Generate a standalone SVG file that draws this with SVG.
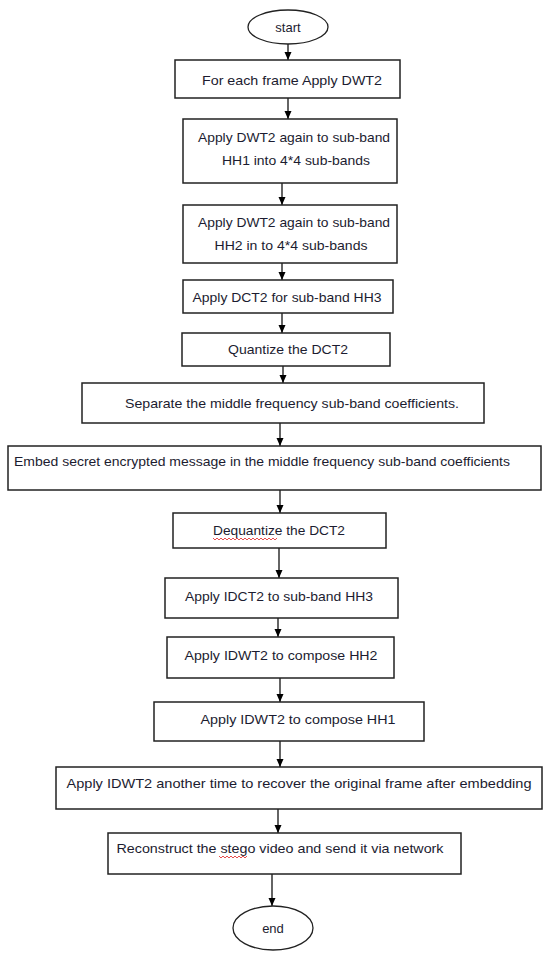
<svg xmlns="http://www.w3.org/2000/svg" width="550" height="955" viewBox="0 0 550 955">
<defs>
<marker id="ah" markerWidth="10" markerHeight="10" refX="9" refY="5" orient="auto" markerUnits="userSpaceOnUse">
<path d="M1,1.5 L9,5 L1,8.5 Z" fill="#000"/>
</marker>
<style>
.box{fill:#fff;stroke:#222;stroke-width:1.5}
.term{fill:#fff;stroke:#222;stroke-width:1.3}
.t{font-family:"Liberation Sans",Arial,sans-serif;font-size:13px;fill:#1c1c30;text-anchor:middle;dominant-baseline:central}
.c{stroke:#111;stroke-width:1.3;fill:none;marker-end:url(#ah)}
.sq{stroke:#e02020;stroke-width:0.8;fill:none}
</style>
</defs>
<rect width="550" height="955" fill="#fff"/>
<g id="connectors">
<line class="c" x1="288" y1="44" x2="288" y2="60"/>
<line class="c" x1="288" y1="98" x2="288" y2="119"/>
<line class="c" x1="282" y1="183" x2="282" y2="205"/>
<line class="c" x1="282" y1="263" x2="282" y2="280"/>
<line class="c" x1="282" y1="313" x2="282" y2="333"/>
<line class="c" x1="283" y1="366" x2="283" y2="383"/>
<line class="c" x1="280" y1="423" x2="280" y2="446"/>
<line class="c" x1="280" y1="490" x2="280" y2="513"/>
<line class="c" x1="279" y1="548" x2="279" y2="578"/>
<line class="c" x1="278" y1="618" x2="278" y2="637"/>
<line class="c" x1="280" y1="678" x2="280" y2="702"/>
<line class="c" x1="280" y1="741" x2="280" y2="767"/>
<line class="c" x1="278" y1="809" x2="278" y2="833"/>
<line class="c" x1="272" y1="874" x2="272" y2="906"/>
</g>
<g id="start"><ellipse class="term" cx="288" cy="27" rx="40" ry="17"/><text class="t" x="288" y="27">start</text></g>
<g id="n1"><rect class="box" x="175" y="60" width="225" height="38"/><text class="t" x="292" y="80" textLength="180" lengthAdjust="spacingAndGlyphs">For each frame Apply DWT2</text></g>
<g id="n2"><rect class="box" x="183" y="119" width="214" height="64"/><text class="t" x="294" y="137" textLength="192" lengthAdjust="spacingAndGlyphs">Apply DWT2 again to sub-band</text><text class="t" x="296" y="160" textLength="148" lengthAdjust="spacingAndGlyphs">HH1 into 4*4 sub-bands</text></g>
<g id="n3"><rect class="box" x="183" y="205" width="214" height="58"/><text class="t" x="294" y="222" textLength="192" lengthAdjust="spacingAndGlyphs">Apply DWT2 again to sub-band</text><text class="t" x="291" y="245" textLength="153" lengthAdjust="spacingAndGlyphs">HH2 in to 4*4 sub-bands</text></g>
<g id="n4"><rect class="box" x="183" y="280" width="210" height="33"/><text class="t" x="287" y="297" textLength="189" lengthAdjust="spacingAndGlyphs">Apply DCT2 for sub-band HH3</text></g>
<g id="n5"><rect class="box" x="182" y="333" width="208" height="33"/><text class="t" x="288" y="349" textLength="120" lengthAdjust="spacingAndGlyphs">Quantize the DCT2</text></g>
<g id="n6"><rect class="box" x="82" y="383" width="402" height="40"/><text class="t" x="292" y="403" textLength="334" lengthAdjust="spacingAndGlyphs">Separate the middle frequency sub-band coefficients.</text></g>
<g id="n7"><rect class="box" x="8" y="446" width="533" height="44"/><text class="t" x="262" y="461" textLength="496" lengthAdjust="spacingAndGlyphs">Embed secret encrypted message in  the middle frequency sub-band  coefficients</text></g>
<g id="n8"><rect class="box" x="173" y="513" width="213" height="35"/><text class="t" x="279" y="530" textLength="132" lengthAdjust="spacingAndGlyphs">Dequantize the DCT2</text><path class="sq" d="M213,538 l2,2 l2,-2 l2,2 l2,-2 l2,2 l2,-2 l2,2 l2,-2 l2,2 l2,-2 l2,2 l2,-2 l2,2 l2,-2 l2,2 l2,-2 l2,2 l2,-2 l2,2 l2,-2 l2,2 l2,-2 l2,2 l2,-2 l2,2 l2,-2 l2,2 l2,-2 l2,2 l2,-2 l2,2 l2,-2"/></g>
<g id="n9"><rect class="box" x="165" y="578" width="233" height="40"/><text class="t" x="279" y="596" textLength="188" lengthAdjust="spacingAndGlyphs">Apply  IDCT2 to sub-band HH3</text></g>
<g id="n10"><rect class="box" x="167" y="637" width="227" height="41"/><text class="t" x="281" y="655" textLength="193" lengthAdjust="spacingAndGlyphs">Apply IDWT2  to compose HH2</text></g>
<g id="n11"><rect class="box" x="154" y="702" width="270" height="39"/><text class="t" x="298" y="719" textLength="195" lengthAdjust="spacingAndGlyphs">Apply IDWT2  to compose HH1</text></g>
<g id="n12"><rect class="box" x="56" y="767" width="486" height="42"/><text class="t" x="299" y="783" textLength="465" lengthAdjust="spacingAndGlyphs">Apply IDWT2  another time to recover the original frame after embedding</text></g>
<g id="n13"><rect class="box" x="108" y="833" width="353" height="41"/><text class="t" x="280" y="848" textLength="327" lengthAdjust="spacingAndGlyphs">Reconstruct the stego video and send it via network</text><path class="sq" d="M219,856 l2,2 l2,-2 l2,2 l2,-2 l2,2 l2,-2 l2,2 l2,-2 l2,2 l2,-2 l2,2 l2,-2 l2,2 l2,-2"/></g>
<g id="end"><ellipse class="term" cx="273" cy="928" rx="40" ry="22"/><text class="t" x="273" y="928">end</text></g>
</svg>
